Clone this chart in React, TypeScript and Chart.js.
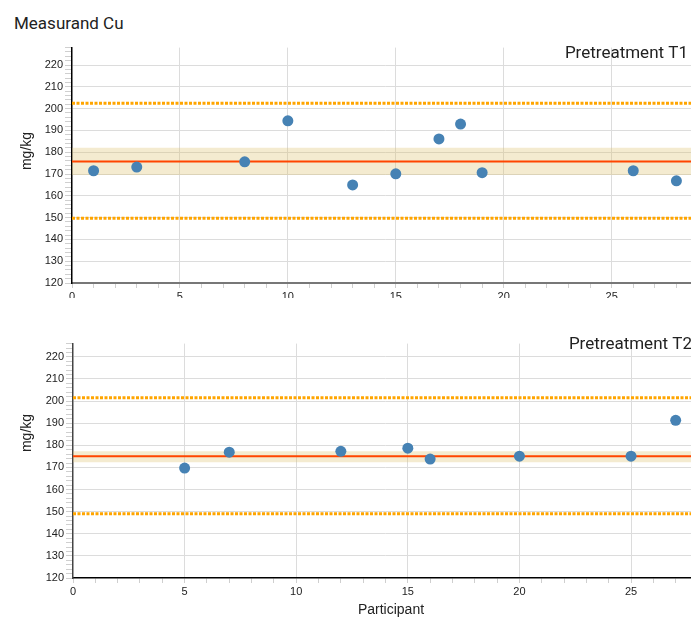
import React, { useEffect, useRef } from 'react';
import { Chart, registerables } from 'chart.js';

Chart.register(...registerables);

// ---------- data ----------
const pageTitle = 'Measurand Cu';
const yAxisTitle = 'mg/kg';
const xAxisTitle = 'Participant';

const t1Title = 'Pretreatment T1';
const t1Participants = [1, 3, 8, 10, 13, 15, 17, 18, 19, 26, 28];
const t1Values = [171.5, 173.2, 175.6, 194.4, 165.0, 170.1, 186.1, 192.9, 170.6, 171.5, 166.9];
// [lower limit, band low, assigned value, band high, upper limit]
const t1Reference = [149.7, 169.6, 175.8, 182.0, 202.5];

const t2Title = 'Pretreatment T2';
const t2Participants = [5, 7, 12, 15, 16, 20, 25, 27];
const t2Values = [169.7, 176.9, 177.3, 178.7, 173.8, 175.1, 175.1, 191.3];
const t2Reference = [149.1, 172.4, 175.1, 177.3, 201.5];

const yMin = 120;
const t1YMax = 228;
const t2YMax = 226;
const t1XMax = 29;
const t2XMax = 28;

const SANS = '"Liberation Sans", Arial, sans-serif';

const textPlugin = {
  id: 'panelText',
  afterDraw(chart: any, _args: any, opts: any) {
    const ctx = chart.ctx as CanvasRenderingContext2D;
    ctx.save();
    ctx.fillStyle = '#222';
    ctx.font = '17px Roboto';
    ctx.textAlign = 'right';
    ctx.textBaseline = 'alphabetic';
    ctx.fillText(opts.subtitle, opts.subX, opts.subY);

    ctx.save();
    ctx.translate(opts.yTitleX, opts.yTitleY);
    ctx.rotate(-Math.PI / 2);
    ctx.font = '14px ' + SANS;
    ctx.textAlign = 'center';
    ctx.textBaseline = 'middle';
    ctx.fillText(opts.yTitle, 0, 0);
    ctx.restore();

    if (opts.xTitle) {
      ctx.font = '14px ' + SANS;
      ctx.textAlign = 'center';
      ctx.textBaseline = 'middle';
      ctx.fillText(opts.xTitle, opts.xTitleX, opts.xTitleY);
    }
    ctx.restore();
  },
};

type Panel = {
  participants: number[];
  values: number[];
  reference: number[];
  xMax: number;
  yMax: number;
  yWidth: number;
  xHeight: number;
  xBorder: { color: string; width: number };
  yBorder: { color: string; width: number };
  text: any;
};

function hline(y: number, xMax: number) {
  return [
    { x: 0, y },
    { x: xMax, y },
  ];
}

function makeConfig(p: Panel): any {
  const [lo, bandLo, assigned, bandHi, hi] = p.reference;
  return {
    type: 'scatter',
    data: {
      datasets: [
        {
          data: p.participants.map((x, i) => ({ x, y: p.values[i] })),
          pointRadius: 5.5,
          pointBackgroundColor: '#4682b4',
          pointBorderWidth: 0,
          showLine: false,
          order: 0,
        },
        {
          data: hline(assigned, p.xMax),
          showLine: true,
          borderColor: '#ff4500',
          borderWidth: 2,
          pointRadius: 0,
          order: 1,
        },
        {
          data: hline(hi, p.xMax),
          showLine: true,
          borderColor: '#ffa500',
          borderWidth: 3,
          borderDash: [3, 1.5],
          pointRadius: 0,
          order: 2,
        },
        {
          data: hline(lo, p.xMax),
          showLine: true,
          borderColor: '#ffa500',
          borderWidth: 3,
          borderDash: [3, 1.5],
          pointRadius: 0,
          order: 2,
        },
        {
          data: hline(bandLo, p.xMax),
          showLine: true,
          borderWidth: 0,
          borderColor: 'rgba(0,0,0,0)',
          pointRadius: 0,
          fill: false,
          order: 3,
        },
        {
          data: hline(bandHi, p.xMax),
          showLine: true,
          borderWidth: 0,
          borderColor: 'rgba(0,0,0,0)',
          backgroundColor: 'rgba(222,192,110,0.32)',
          pointRadius: 0,
          fill: '-1',
          order: 3,
        },
      ],
    },
    options: {
      animation: false,
      responsive: false,
      devicePixelRatio: 1,
      events: [],
      layout: { padding: { top: 7, left: 0, right: 0, bottom: 0 }, autoPadding: false },
      plugins: {
        legend: { display: false },
        tooltip: { enabled: false },
        panelText: p.text,
      },
      scales: {
        x: {
          type: 'linear',
          min: 0,
          max: p.xMax,
          afterFit: (s: any) => {
            s.height = p.xHeight;
          },
          border: p.xBorder,
          grid: {
            color: (c: any) =>
              c.tick && c.tick.value % 5 === 0 && c.tick.value !== 0 ? '#dcdcdc' : 'rgba(0,0,0,0)',
            tickColor: '#cfcfcf',
            tickLength: 5,
            lineWidth: 1,
          },
          ticks: {
            stepSize: 1,
            autoSkip: false,
            maxRotation: 0,
            minRotation: 0,
            padding: 2,
            color: '#222',
            font: { family: SANS, size: 11 },
            callback: (v: any) => (Number(v) % 5 === 0 ? String(v) : ''),
          },
        },
        y: {
          type: 'linear',
          min: yMin,
          max: p.yMax,
          afterFit: (s: any) => {
            s.width = p.yWidth;
          },
          border: p.yBorder,
          grid: {
            color: (c: any) =>
              c.tick && c.tick.value % 10 === 0 && c.tick.value !== yMin ? '#dcdcdc' : 'rgba(0,0,0,0)',
            tickColor: '#cfcfcf',
            tickLength: 7,
            lineWidth: 1,
          },
          ticks: {
            stepSize: 2,
            autoSkip: false,
            padding: 2,
            color: '#222',
            font: { family: SANS, size: 11 },
            callback: (v: any) => (Number(v) % 10 === 0 ? String(v) : ''),
          },
        },
      },
    },
    plugins: [textPlugin],
  };
}

function PanelChart({ panel, style, width, height }: { panel: Panel; style: any; width: number; height: number }) {
  const ref = useRef<HTMLCanvasElement | null>(null);
  useEffect(() => {
    if (!ref.current) return;
    const chart = new Chart(ref.current, makeConfig(panel));
    return () => chart.destroy();
  }, [panel]);
  return <canvas ref={ref} width={width} height={height} style={{ position: 'absolute', ...style, width, height }} />;
}

const topPanel: Panel = {
  participants: t1Participants,
  values: t1Values,
  reference: t1Reference,
  xMax: t1XMax,
  yMax: t1YMax,
  yWidth: 72,
  xHeight: 15,
  xBorder: { color: '#777', width: 2 },
  yBorder: { color: '#000', width: 1.5 },
  text: { subtitle: t1Title, subX: 688, subY: 18.5, yTitle: yAxisTitle, yTitleX: 27.5, yTitleY: 112 },
};

const bottomPanel: Panel = {
  participants: t2Participants,
  values: t2Values,
  reference: t2Reference,
  xMax: t2XMax,
  yMax: t2YMax,
  yWidth: 73,
  xHeight: 42,
  xBorder: { color: '#000', width: 1.5 },
  yBorder: { color: '#444', width: 1.5 },
  text: {
    subtitle: t2Title,
    subX: 692,
    subY: 13.5,
    yTitle: yAxisTitle,
    yTitleX: 27.5,
    yTitleY: 98,
    xTitle: xAxisTitle,
    xTitleX: 391,
    xTitleY: 275.5,
  },
};

export default function App() {
  useEffect(() => {
    document.body.style.margin = '0';
    document.body.style.overflow = 'hidden';
  }, []);
  return (
    <div style={{ position: 'relative', width: 691, height: 620, overflow: 'hidden', background: '#fff' }}>
      <div
        style={{
          position: 'absolute',
          left: 14,
          top: 13,
          fontFamily: 'Roboto, sans-serif',
          fontSize: 17,
          lineHeight: '20px',
          color: '#222',
          whiteSpace: 'nowrap',
        }}
      >
        {pageTitle}
      </div>
      <PanelChart panel={topPanel} style={{ left: 0, top: 39 }} width={700} height={259} />
      <PanelChart panel={bottomPanel} style={{ left: 0, top: 335 }} width={700} height={285} />
    </div>
  );
}
